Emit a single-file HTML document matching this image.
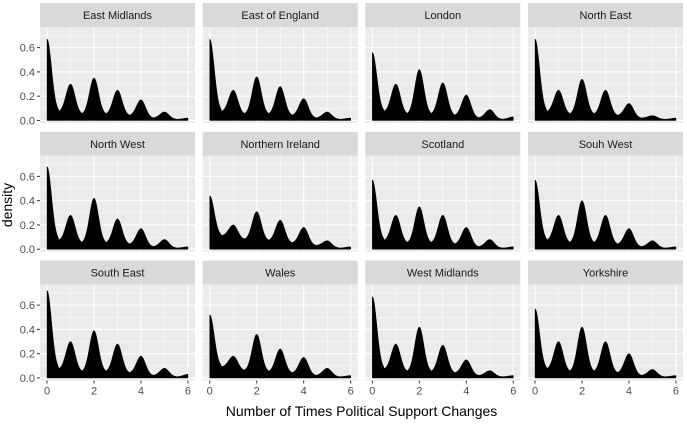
<!DOCTYPE html>
<html><head><meta charset="utf-8">
<style>
body{margin:0;background:#fff;}
svg{display:block;font-family:"Liberation Sans",Arial,sans-serif;}
</style></head>
<body>
<svg id="chart" width="687" height="427" viewBox="0 0 687 427" xmlns="http://www.w3.org/2000/svg"></svg>
<script>
const regions = ["East Midlands","East of England","London","North East","North West","Northern Ireland","Scotland","Souh West","South East","Wales","West Midlands","Yorkshire"];
const peaks = [
 [0.67,0.30,0.35,0.25,0.17,0.07,0.02],
 [0.67,0.25,0.36,0.28,0.18,0.07,0.02],
 [0.56,0.30,0.42,0.31,0.21,0.09,0.03],
 [0.67,0.25,0.34,0.25,0.14,0.04,0.02],
 [0.68,0.28,0.42,0.25,0.17,0.08,0.02],
 [0.44,0.20,0.31,0.24,0.18,0.07,0.02],
 [0.57,0.28,0.35,0.28,0.18,0.08,0.02],
 [0.57,0.28,0.40,0.28,0.17,0.07,0.02],
 [0.72,0.30,0.39,0.28,0.18,0.08,0.03],
 [0.52,0.18,0.36,0.24,0.17,0.08,0.02],
 [0.67,0.28,0.42,0.27,0.15,0.06,0.02],
 [0.57,0.30,0.42,0.30,0.20,0.07,0.02]
];
const troughs = [
 [0.07,0.05,0.05,0.04,0.02,0.01],
 [0.07,0.05,0.05,0.04,0.02,0.01],
 [0.07,0.05,0.05,0.04,0.02,0.01],
 [0.07,0.05,0.05,0.04,0.02,0.01],
 [0.07,0.05,0.05,0.04,0.02,0.01],
 [0.11,0.08,0.07,0.05,0.03,0.01],
 [0.07,0.05,0.05,0.04,0.02,0.01],
 [0.07,0.05,0.05,0.04,0.02,0.01],
 [0.07,0.05,0.05,0.04,0.02,0.01],
 [0.09,0.06,0.05,0.04,0.02,0.01],
 [0.07,0.05,0.05,0.04,0.02,0.01],
 [0.07,0.05,0.05,0.04,0.02,0.01]
];
const xTicks = [0,2,4,6];
const yTicks = [0,0.2,0.4,0.6];
const yTickLabels = ["0.0","0.2","0.4","0.6"];

const NS="http://www.w3.org/2000/svg";
const svg=document.getElementById('chart');
function mk(tag,attrs,parent){const e=document.createElementNS(NS,tag);for(const k in attrs)e.setAttribute(k,attrs[k]);(parent||svg).appendChild(e);return e;}

const colX=[40,202.7,365.3,528], rowY=[3,131.75,260.5];
const PW=155, SH=24, PH=96;
const xMin=-0.3,xMax=6.3,yMin=-0.021,yMax=0.77;

function density(p,t,x){
  const k=Math.round(x); const d=x-k;
  const side = d>=0 ? k : k-1;
  const tr = t[Math.max(0,Math.min(t.length-1,side))];
  const pk = p[k];
  const s=0.19;
  return tr+(pk-tr)*Math.exp(-d*d/(2*s*s));
}

regions.forEach((name,i)=>{
  const c=i%4, r=Math.floor(i/4);
  const x0=colX[c], y0=rowY[r]+SH;
  const sx=v=>x0+(v-xMin)/(xMax-xMin)*PW;
  const sy=v=>y0+PH-(v-yMin)/(yMax-yMin)*PH;
  const g=mk('g',{});
  
  
  const strip=mk('rect',{x:x0,y:rowY[r],width:PW,height:SH,fill:'#d9d9d9'},g);
  
  
  const st=mk('text',{x:x0+PW/2,y:rowY[r]+16,'text-anchor':'middle','font-size':11,fill:'#1a1a1a'},g);
  st.textContent=name;
  
  
  const bg=mk('rect',{x:x0,y:y0,width:PW,height:PH,fill:'#ebebeb'},g);
  
  
  for(let v=0.1;v<0.75;v+=0.2) mk('line',{x1:x0,x2:x0+PW,y1:sy(v),y2:sy(v),stroke:'#fff','stroke-width':0.5},g);
  for(let v=1;v<6;v+=2) mk('line',{x1:sx(v),x2:sx(v),y1:y0,y2:y0+PH,stroke:'#fff','stroke-width':0.5},g);
  yTicks.forEach(v=>mk('line',{x1:x0,x2:x0+PW,y1:sy(v),y2:sy(v),stroke:'#fff','stroke-width':1.1},g));
  xTicks.forEach(v=>mk('line',{x1:sx(v),x2:sx(v),y1:y0,y2:y0+PH,stroke:'#fff','stroke-width':1.1},g));
  const p=peaks[i], t=troughs[i];
  let d='M'+sx(0)+','+sy(0);
  for(let x=0;x<=6.0001;x+=0.02){d+=' L'+sx(x).toFixed(2)+','+sy(density(p,t,Math.min(x,6))).toFixed(2);}
  d+=' L'+sx(6)+','+sy(0)+' Z';
  const area=mk('path',{d:d,fill:'#000',stroke:'#000','stroke-width':0.5},g);
  
  
  if(c===0){
    yTicks.forEach((v,j)=>{
      mk('line',{x1:x0-3,x2:x0,y1:sy(v),y2:sy(v),stroke:'#333','stroke-width':1},g);
      const tl=mk('text',{x:x0-5,y:sy(v)+4,'text-anchor':'end','font-size':11,fill:'#4d4d4d'},g);
      tl.textContent=yTickLabels[j];
      
      
    });
  }
  if(r===2){
    xTicks.forEach(v=>{
      mk('line',{x1:sx(v),x2:sx(v),y1:y0+PH,y2:y0+PH+3,stroke:'#333','stroke-width':1},g);
      const tl=mk('text',{x:sx(v),y:y0+PH+14,'text-anchor':'middle','font-size':11,fill:'#4d4d4d'},g);
      tl.textContent=String(v);
      
      
    });
  }
});
const xt=mk('text',{x:(40+683)/2,y:416,'text-anchor':'middle','font-size':14,fill:'#000'});
xt.textContent='Number of Times Political Support Changes';


const yt=mk('text',{x:0,y:0,'text-anchor':'middle','font-size':14,fill:'#000',transform:'translate(12,205) rotate(-90)'});
yt.textContent='density';


</script>
</body></html>
